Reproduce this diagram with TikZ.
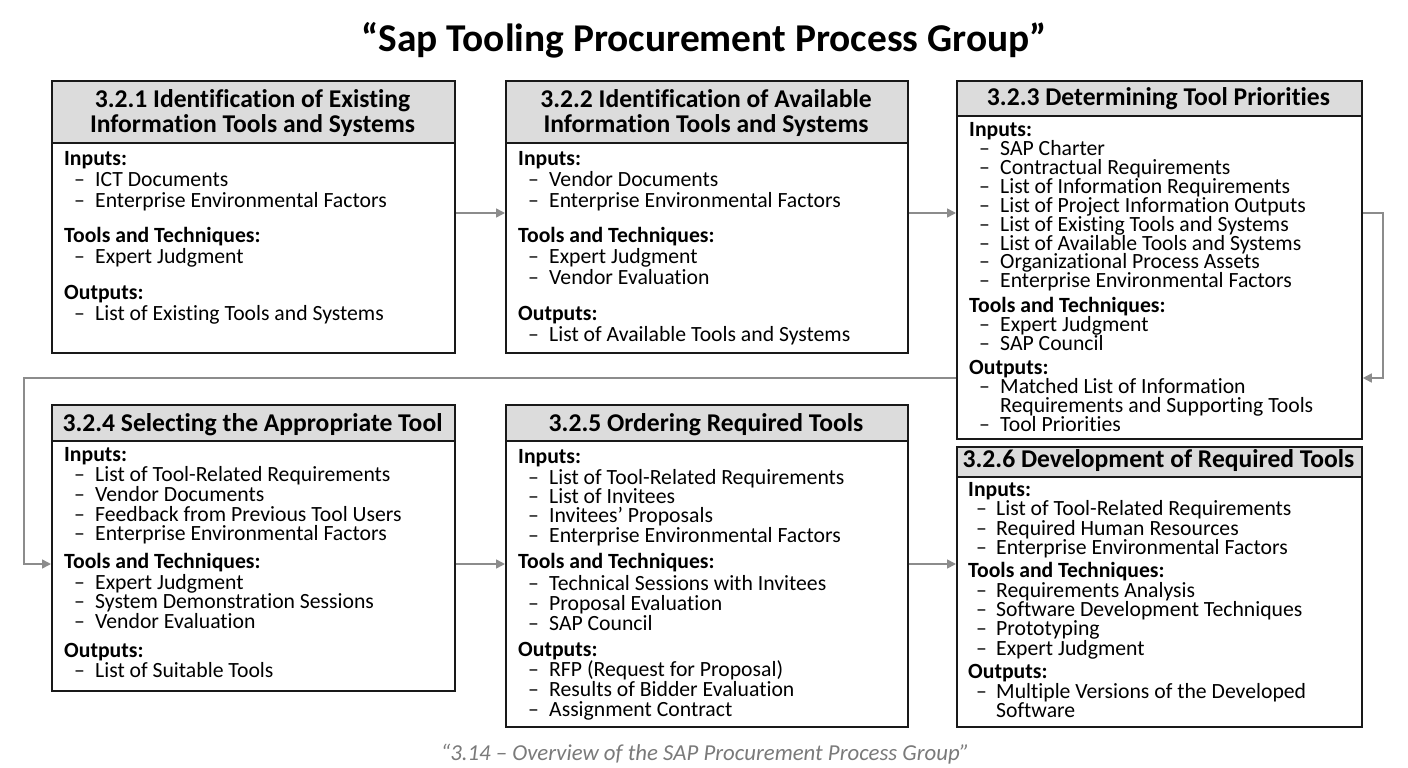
\documentclass[tikz,border=0pt]{standalone}
\usepackage{fontspec}
\setmainfont{Carlito}[Ligatures=NoCommon]
\usetikzlibrary{arrows.meta}
\definecolor{arrgray}{HTML}{8C8C8C}
\definecolor{hdrgray}{HTML}{DCDCDC}
\definecolor{capgray}{HTML}{7A7A7A}
\newcounter{ln}
\tikzset{
  box/.style={draw=black!90, line width=1.8pt, fill=white, inner sep=0, anchor=north west},
  hdr/.style={draw=black!90, line width=1.8pt, fill=hdrgray, inner sep=0, anchor=north west},
  hdtxt/.style={font=\bfseries\fontsize{25.6}{27}\selectfont, inner sep=0, anchor=base},
  txt/.style={font=\fontsize{21.7}{22}\selectfont, inner sep=0, anchor=base west, text=black},
  sec/.style={txt, font=\bfseries\fontsize{21.7}{22}\selectfont},
  arr/.style={draw=arrgray, line width=1.6pt, -{Triangle[length=9pt,width=9pt]}}
}
\newcommand\sect[3]{\stepcounter{ln}\node[sec] (s\theln) at (#1,#2) {#3};}
\newcommand\itm[4]{\stepcounter{ln}\node[txt] (d\theln) at (#1,#3) {–};\node[txt] (t\theln) at (#2,#3) {#4};}
\newcommand\cont[3]{\stepcounter{ln}\node[txt] (c\theln) at (#1,#2) {#3};}
\begin{document}
\begin{tikzpicture}[x=1pt,y=-1pt]
\useasboundingbox (0,0) rectangle (1408,768);
\fill[white] (0,0) rectangle (1408,768);

% title
\node[font=\bfseries\fontsize{39.4}{41}\selectfont, inner sep=0, anchor=base] (title) at (704,52) {“Sap Tooling Procurement Process Group”};

% boxes
\node[box, minimum width=403pt, minimum height=272pt] (b1) at (51,80) {};
\node[hdr, minimum width=403pt, minimum height=62pt] (h1) at (51,80) {};
\node[box, minimum width=402pt, minimum height=272pt] (b2) at (505,80) {};
\node[hdr, minimum width=402pt, minimum height=62pt] (h2) at (505,80) {};
\node[box, minimum width=405pt, minimum height=358pt] (b3) at (956,80) {};
\node[hdr, minimum width=405pt, minimum height=35pt] (h3) at (956,80) {};
\node[box, minimum width=403pt, minimum height=286pt] (b4) at (51,404) {};
\node[hdr, minimum width=403pt, minimum height=36pt] (h4) at (51,404) {};
\node[box, minimum width=402pt, minimum height=322pt] (b5) at (505,404) {};
\node[hdr, minimum width=402pt, minimum height=36pt] (h5) at (505,404) {};
\node[box, minimum width=405pt, minimum height=280pt] (b6) at (956,446) {};
\node[hdr, minimum width=405pt, minimum height=30pt] (h6) at (956,446) {};

% header texts
\node[hdtxt] (h1a) at (252.5,107) {3.2.1 Identification of Existing};
\node[hdtxt] (h1b) at (252.5,132) {Information Tools and Systems};
\node[hdtxt] (h2a) at (706,107) {3.2.2 Identification of Available};
\node[hdtxt] (h2b) at (706,132) {Information Tools and Systems};
\node[hdtxt] (h3a) at (1158.5,106) {3.2.3 Determining Tool Priorities};
\node[hdtxt] (h4a) at (252.5,431) {3.2.4 Selecting the Appropriate Tool};
\node[hdtxt] (h5a) at (706,431) {3.2.5 Ordering Required Tools};
\node[hdtxt] (h6a) at (1158.5,467) {3.2.6 Development of Required Tools};

% box 1
\sect{64}{165}{Inputs:}
\itm{74}{95}{186}{ICT Documents}
\itm{74}{95}{207}{Enterprise Environmental Factors}
\sect{64}{242}{Tools and Techniques:}
\itm{74}{95}{263}{Expert Judgment}
\sect{64}{299}{Outputs:}
\itm{74}{95}{320}{List of Existing Tools and Systems}

% box 2
\sect{518}{165}{Inputs:}
\itm{528}{549}{186}{Vendor Documents}
\itm{528}{549}{207}{Enterprise Environmental Factors}
\sect{518}{242}{Tools and Techniques:}
\itm{528}{549}{263}{Expert Judgment}
\itm{528}{549}{284}{Vendor Evaluation}
\sect{518}{320}{Outputs:}
\itm{528}{549}{341}{List of Available Tools and Systems}

% box 3
\sect{969}{136}{Inputs:}
\itm{979}{1000}{155}{SAP Charter}
\itm{979}{1000}{174}{Contractual Requirements}
\itm{979}{1000}{193}{List of Information Requirements}
\itm{979}{1000}{212}{List of Project Information Outputs}
\itm{979}{1000}{231}{List of Existing Tools and Systems}
\itm{979}{1000}{250}{List of Available Tools and Systems}
\itm{979}{1000}{268}{Organizational Process Assets}
\itm{979}{1000}{287}{Enterprise Environmental Factors}
\sect{969}{312}{Tools and Techniques:}
\itm{979}{1000}{331}{Expert Judgment}
\itm{979}{1000}{350}{SAP Council}
\sect{969}{374}{Outputs:}
\itm{979}{1000}{393}{Matched List of Information}
\cont{1000}{412}{Requirements and Supporting Tools}
\itm{979}{1000}{431}{Tool Priorities}

% box 4
\sect{64}{461}{Inputs:}
\itm{74}{95}{481}{List of Tool-Related Requirements}
\itm{74}{95}{501}{Vendor Documents}
\itm{74}{95}{521}{Feedback from Previous Tool Users}
\itm{74}{95}{540}{Enterprise Environmental Factors}
\sect{64}{568}{Tools and Techniques:}
\itm{74}{95}{589}{Expert Judgment}
\itm{74}{95}{608}{System Demonstration Sessions}
\itm{74}{95}{628}{Vendor Evaluation}
\sect{64}{657}{Outputs:}
\itm{74}{95}{677}{List of Suitable Tools}

% box 5
\sect{518}{463}{Inputs:}
\itm{528}{549}{484}{List of Tool-Related Requirements}
\itm{528}{549}{503}{List of Invitees}
\itm{528}{549}{522}{Invitees’ Proposals}
\itm{528}{549}{542}{Enterprise Environmental Factors}
\sect{518}{568}{Tools and Techniques:}
\itm{528}{549}{590}{Technical Sessions with Invitees}
\itm{528}{549}{610}{Proposal Evaluation}
\itm{528}{549}{630}{SAP Council}
\sect{518}{656}{Outputs:}
\itm{528}{549}{676}{RFP (Request for Proposal)}
\itm{528}{549}{696}{Results of Bidder Evaluation}
\itm{528}{549}{716}{Assignment Contract}

% box 6
\sect{968}{496}{Inputs:}
\itm{976}{996}{515}{List of Tool-Related Requirements}
\itm{976}{996}{535}{Required Human Resources}
\itm{976}{996}{554}{Enterprise Environmental Factors}
\sect{968}{577}{Tools and Techniques:}
\itm{976}{996}{597}{Requirements Analysis}
\itm{976}{996}{616}{Software Development Techniques}
\itm{976}{996}{635}{Prototyping}
\itm{976}{996}{655}{Expert Judgment}
\sect{968}{678}{Outputs:}
\itm{976}{996}{698}{Multiple Versions of the Developed}
\cont{996}{717}{Software}

% connectors
\coordinate (ya) at (0,213);
\coordinate (yb) at (0,378);
\coordinate (yc) at (0,564);
\coordinate (ra) at (1383,213);
\coordinate (rb) at (1383,378);
\coordinate (la) at (24,378);
\coordinate (lb) at (24,564);
\draw[arr] (b1.east |- ya) -- (b2.west |- ya);
\draw[arr] (b2.east |- ya) -- (b3.west |- ya);
\draw[arr] (b3.east |- ya) -- (ra) -- (rb) -- (b3.east |- yb);
\draw[arr] (b3.west |- yb) -- (la) -- (lb) -- (b4.west |- yc);
\draw[arr] (b4.east |- yc) -- (b5.west |- yc);
\draw[arr] (b5.east |- yc) -- (b6.west |- yc);

% caption
\node[font=\itshape\fontsize{22.8}{24}\selectfont, text=capgray, inner sep=0, anchor=base] (cap) at (705,760) {“3.14 – Overview of the SAP Procurement Process Group”};
\end{tikzpicture}
\end{document}
